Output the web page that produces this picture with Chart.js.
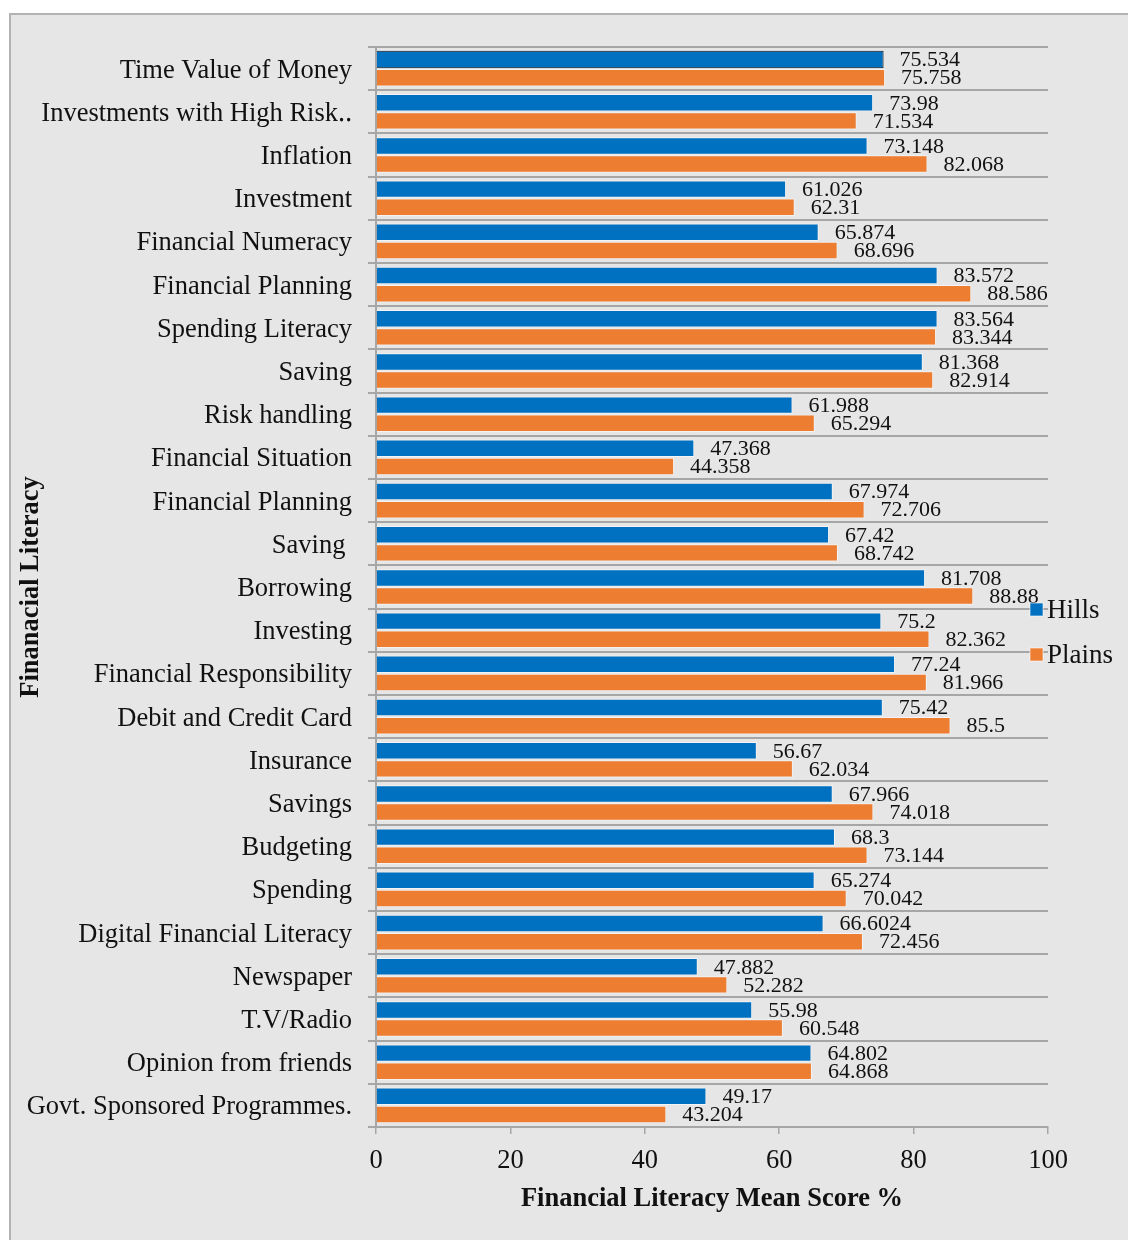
<!DOCTYPE html>
<html>
<head>
<meta charset="utf-8">
<title>Financial Literacy Mean Score</title>
<script src="https://cdn.jsdelivr.net/npm/chart.js@4.4.1/dist/chart.umd.min.js"></script>
<style>
  body { margin: 0; background: #fff; width: 1128px; height: 1240px; overflow: hidden; }
  #panel {
    position: absolute; left: 9px; top: 13px; width: 1119px; height: 1227px;
    background: #e6e6e6; border-left: 2px solid #b3b3b3; border-top: 2px solid #b3b3b3;
  }
  #wrap { position: absolute; left: 11px; top: 15px; width: 1117px; height: 1225px; }
</style>
</head>
<body>
<div id="panel"></div>
<div id="wrap"><canvas id="literacyChart"></canvas></div>
<script>
const categories = [
    "Time Value of Money", "Investments with High Risk\u2025", "Inflation", "Investment",
    "Financial Numeracy", "Financial Planning", "Spending Literacy", "Saving",
    "Risk handling", "Financial Situation", "Financial Planning", "Saving ",
    "Borrowing", "Investing", "Financial Responsibility", "Debit and Credit Card",
    "Insurance", "Savings", "Budgeting", "Spending", "Digital Financial Literacy",
    "Newspaper", "T.V/Radio", "Opinion from friends", "Govt. Sponsored Programmes."
];
const hills = [
    75.534, 73.98, 73.148, 61.026, 65.874, 83.572, 83.564, 81.368, 61.988, 47.368,
    67.974, 67.42, 81.708, 75.2, 77.24, 75.42, 56.67, 67.966, 68.3, 65.274,
    66.6024, 47.882, 55.98, 64.802, 49.17
];
const plains = [
    75.758, 71.534, 82.068, 62.31, 68.696, 88.586, 83.344, 82.914, 65.294, 44.358,
    72.706, 68.742, 88.88, 82.362, 81.966, 85.5, 62.034, 74.018, 73.144, 70.042,
    72.456, 52.282, 60.548, 64.868, 43.204
];
const xTicks = [0, 20, 40, 60, 80, 100];

const serif = "'Liberation Serif', 'Times New Roman', serif";
const gridGray = "#a6a6a6";

// value text just past the end of every bar
const valueLabels = {
    id: "valueLabels",
    afterDatasetsDraw(chart) {
        const ctx = chart.ctx;
        ctx.save();
        ctx.font = "22px " + serif;
        ctx.fillStyle = "#111";
        ctx.textAlign = "left";
        ctx.textBaseline = "middle";
        chart.data.datasets.forEach((ds, i) => {
            chart.getDatasetMeta(i).data.forEach((bar, j) => {
                ctx.fillText(String(ds.data[j]), bar.x + 16, bar.y + 1);
            });
        });
        ctx.restore();
    }
};

// small legend sitting on the right edge of the plot
const sideLegend = {
    id: "sideLegend",
    afterDraw(chart) {
        const ctx = chart.ctx;
        const area = chart.chartArea;
        const midY = (area.top + area.bottom) / 2;
        const rows = [midY + 23, midY + 68];
        ctx.save();
        ctx.font = "27px " + serif;
        ctx.textBaseline = "middle";
        ctx.textAlign = "left";
        chart.data.datasets.forEach((ds, i) => {
            const y = rows[i];
            ctx.fillStyle = ds.legendColor;
            ctx.fillRect(area.right - 18, y - 7, 13, 13);
            ctx.strokeStyle = "rgba(255,255,255,0.6)";
            ctx.lineWidth = 1;
            ctx.strokeRect(area.right - 18, y - 7, 13, 13);
            ctx.fillStyle = "#111";
            ctx.fillText(ds.label, area.right - 1, y + 1);
        });
        ctx.restore();
    }
};

const hillsBorders = hills.map((v, i) => i === 0 ? "#111" : "rgba(255,255,255,0.55)");

new Chart(document.getElementById("literacyChart"), {
    type: "bar",
    data: {
        labels: categories,
        datasets: [
            {
                label: "Hills",
                data: hills,
                backgroundColor: "#0070c0",
                legendColor: "#0070c0",
                borderColor: hillsBorders,
                borderWidth: 1
            },
            {
                label: "Plains",
                data: plains,
                backgroundColor: "#ed7d31",
                legendColor: "#ed7d31",
                borderColor: "rgba(255,255,255,0.55)",
                borderWidth: 1
            }
        ]
    },
    options: {
        indexAxis: "y",
        responsive: true,
        maintainAspectRatio: false,
        animation: false,
        categoryPercentage: 0.84,
        barPercentage: 0.96,
        layout: { padding: { top: 32, right: 80, bottom: 0, left: 0 } },
        plugins: {
            legend: { display: false },
            tooltip: { enabled: false }
        },
        scales: {
            x: {
                min: 0,
                max: 100,
                afterBuildTicks: scale => { scale.ticks = xTicks.map(v => ({ value: v })); },
                afterFit: scale => { scale.height = 113; },
                grid: { drawOnChartArea: false, color: gridGray, lineWidth: 1.5, tickLength: 7 },
                border: { color: gridGray, width: 2 },
                ticks: { font: { family: serif, size: 26.5 }, color: "#111", padding: 11 },
                title: {
                    display: true,
                    text: "Financial Literacy Mean Score %",
                    font: { family: serif, size: 26.5, weight: "bold" },
                    color: "#111",
                    padding: { top: 0, bottom: 25 }
                }
            },
            y: {
                afterFit: scale => { scale.width = 365; },
                grid: { color: gridGray, lineWidth: 2, tickLength: 8 },
                border: { color: gridGray, width: 2 },
                ticks: {
                    font: { family: serif, size: 26.5 },
                    color: "#111",
                    padding: 16,
                    labelOffset: 2,
                    autoSkip: false
                },
                title: {
                    display: true,
                    text: "Finanacial Literacy",
                    font: { family: serif, size: 26.5, weight: "bold" },
                    color: "#111",
                    padding: { top: 4, bottom: 0 }
                }
            }
        }
    },
    plugins: [valueLabels, sideLegend]
});
</script>
</body>
</html>
